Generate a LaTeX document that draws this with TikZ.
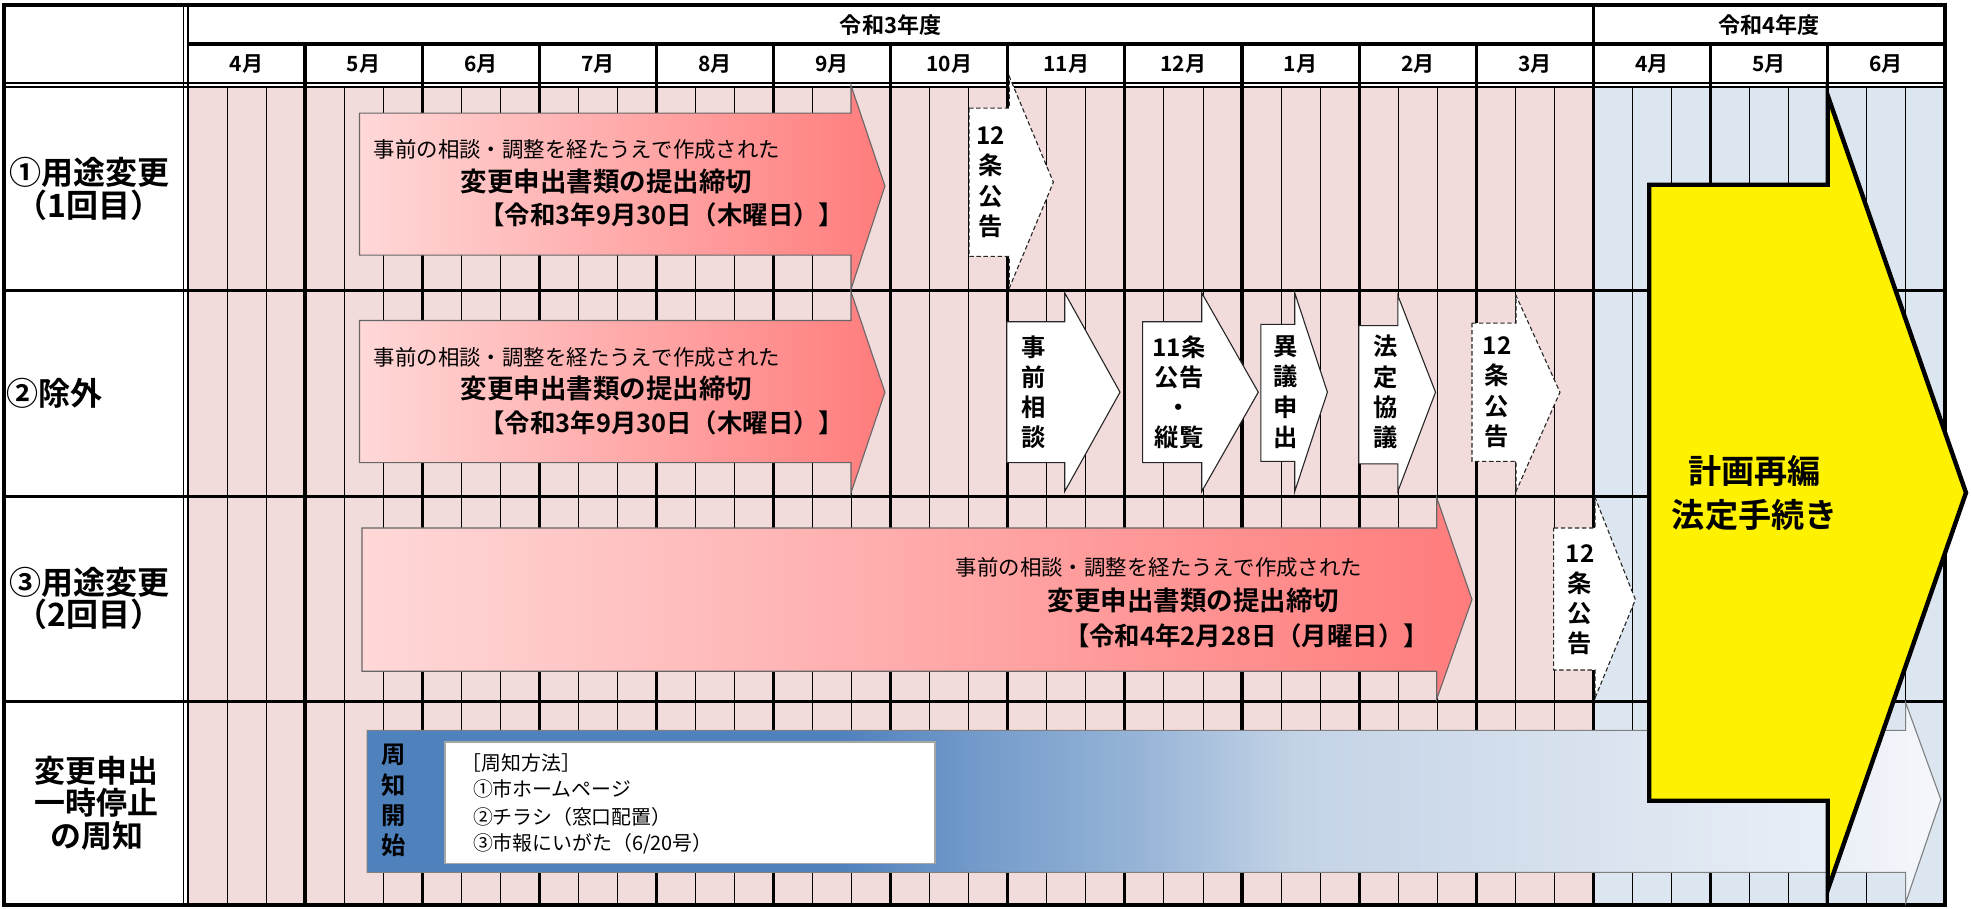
\documentclass[tikz,border=0pt]{standalone}
\usepackage{fontspec}
\setmainfont{Noto Sans CJK JP}[BoldFont={Noto Sans CJK JP Bold}]

\definecolor{rowpink}{RGB}{242,220,219}
\definecolor{rowblue}{RGB}{220,230,241}
\definecolor{deadlinelight}{RGB}{255,216,216}
\definecolor{deadlinedark}{RGB}{255,124,124}
\definecolor{fadeA}{RGB}{79,129,189}
\definecolor{fadeB}{RGB}{120,158,204}
\definecolor{fadeC}{RGB}{150,180,215}
\definecolor{fadeD}{RGB}{195,211,230}
\definecolor{fadeE}{RGB}{215,225,238}
\definecolor{fadeF}{RGB}{232,238,246}
\definecolor{fadeG}{RGB}{245,247,251}
\pgfdeclarehorizontalshading{noticefade}{100bp}{color(0bp)=(fadeA); color(40bp)=(fadeA); color(45bp)=(fadeB); color(49.5bp)=(fadeC); color(54.5bp)=(fadeD); color(63bp)=(fadeE); color(71bp)=(fadeF); color(75bp)=(fadeG); color(100bp)=(fadeG)}

\tikzset{
    deadline/.style={draw=black!60, line width=0.5pt, left color=deadlinelight, right color=deadlinedark},
    procarrow/.style={draw=black!85, fill=white, line width=0.5pt},
    notice/.style={procarrow, dash pattern=on 2pt off 1.2pt},
    monthline/.style={line width=1.4pt},
    subline/.style={line width=0.4pt},
    rowlabel/.style={font=\fontsize{14.5}{17}\selectfont\bfseries, inner sep=0pt},
    headlabel/.style={font=\fontsize{10}{12}\selectfont\bfseries, inner sep=0pt},
    plaintext/.style={font=\fontsize{9.7}{12}\selectfont, inner sep=0pt},
    boldtext/.style={font=\fontsize{12}{14}\selectfont\bfseries, inner sep=0pt},
    vtext/.style={font=\fontsize{11}{13.7}\selectfont\bfseries, align=center, inner sep=0pt},
    memo/.style={font=\fontsize{9}{11}\selectfont, inner sep=0pt, anchor=west},
}

\begin{document}
\begin{tikzpicture}[x=0.02cm,y=-0.02cm]
        \useasboundingbox (0,0) rectangle (1568,723);

        % table background
        \fill[white] (3,4) rectangle (1547,69.5);
        \fill[white] (3,69.5) rectangle (149.5,720);
        \fill[rowpink] (149.5,69.5) rectangle (1267.5,720);
        \fill[rowblue] (1267.5,69.5) rectangle (1547,720);

        % grid
        \foreach \k in {1,...,44}
            \draw[subline] (149.5+31.057*\k,69.5) -- (149.5+31.057*\k,720);
        \foreach \m in {1,...,14}
            \draw[monthline] (149.5+93.17*\m,35) -- (149.5+93.17*\m,720);
        \draw[monthline] (1267.5,4) -- (1267.5,35);
        \draw[monthline] (149.5,35) -- (1547,35);
        \draw[line width=0.8pt] (3,66) -- (1547,66) (3,69.5) -- (1547,69.5);
        \draw[line width=0.8pt] (146,4) -- (146,720) (149.5,4) -- (149.5,720);
        \foreach \y in {231,395,558}
            \draw[monthline] (3,\y) -- (1547,\y);
        \draw[line width=1.8pt] (3,4) rectangle (1547,720);

        % headers
        \node[headlabel] (fy3) at (708.5,20) {令和3年度};
        \node[headlabel] (fy4) at (1407.3,20) {令和4年度};
        \foreach \mon [count=\i from 0] in {4,5,6,7,8,9,10,11,12,1,2,3,4,5,6}
            \node[headlabel, font=\fontsize{9.5}{11}\selectfont\bfseries] (mon\i) at (196.1+93.17*\i,51) {\mon 月};

        % row labels
        \node[rowlabel] (lab1a) at (71,137) {①用途変更};
        \node[rowlabel] (lab1b) at (71,163) {（1回目）};
        \node[rowlabel] (lab2) at (5,313) [anchor=west] {②除外};
        \node[rowlabel] (lab3a) at (71,463) {③用途変更};
        \node[rowlabel] (lab3b) at (71,489) {（2回目）};
        \node[rowlabel, font=\fontsize{14}{17}\selectfont\bfseries] (lab4a) at (77,613) {変更申出};
        \node[rowlabel, font=\fontsize{14}{17}\selectfont\bfseries] (lab4b) at (77,639) {一時停止};
        \node[rowlabel, font=\fontsize{14}{17}\selectfont\bfseries] (lab4c) at (77,665) {の周知};

        % deadline arrows
        \draw[deadline] (286,90) -- (677,90) -- (677,68) -- (704,148) -- (677,230) -- (677,203) -- (286,203) -- cycle;
        \node[plaintext] (pre1) at (297,119) [anchor=west] {事前の相談・調整を経たうえで作成された};
        \node[boldtext] (due1) at (366,144) [anchor=west] {変更申出書類の提出締切};
        \node[boldtext, font=\fontsize{11.5}{14}\selectfont\bfseries] (date1) at (672,171) [anchor=east] {【令和3年9月30日（木曜日）】};

        \draw[deadline] (286,255) -- (677,255) -- (677,232) -- (704,312) -- (677,392) -- (677,368) -- (286,368) -- cycle;
        \node[plaintext] (pre2) at (297,284) [anchor=west] {事前の相談・調整を経たうえで作成された};
        \node[boldtext] (due2) at (366,309) [anchor=west] {変更申出書類の提出締切};
        \node[boldtext, font=\fontsize{11.5}{14}\selectfont\bfseries] (date2) at (672,336) [anchor=east] {【令和3年9月30日（木曜日）】};

        \draw[deadline] (288,420) -- (1143,420) -- (1143,396) -- (1171,477) -- (1143,556) -- (1143,534) -- (288,534) -- cycle;
        \node[plaintext] (pre3) at (760,451) [anchor=west] {事前の相談・調整を経たうえで作成された};
        \node[boldtext] (due3) at (833,478) [anchor=west] {変更申出書類の提出締切};
        \node[boldtext, font=\fontsize{11.5}{14}\selectfont\bfseries] (date3) at (1137,506) [anchor=east] {【令和4年2月28日（月曜日）】};

        % procedure arrows
        \draw[notice] (771,86) -- (803,86) -- (803,61) -- (838,145) -- (803,229) -- (803,204) -- (771,204) -- cycle;
        \node[vtext] (kokoku1) at (788,145) {12\\条\\公\\告};

        \draw[procarrow] (801,256) -- (847,256) -- (847,233) -- (891,312) -- (847,391) -- (847,368) -- (801,368) -- cycle;
        \node[vtext] (soudan) at (822,312) {事\\前\\相\\談};
        \draw[procarrow] (909,256) -- (956,256) -- (956,233) -- (1001,312) -- (956,391) -- (956,368) -- (909,368) -- cycle;
        \node[vtext] (juran) at (938,312) {11条\\公告\\・\\縦覧};
        \draw[procarrow] (1003,258) -- (1030,258) -- (1030,233) -- (1056,312) -- (1030,391) -- (1030,367) -- (1003,367) -- cycle;
        \node[vtext] (igi) at (1023,312) {異\\議\\申\\出};
        \draw[procarrow] (1081,259) -- (1112,259) -- (1112,235) -- (1142,312) -- (1112,391) -- (1112,369) -- (1081,369) -- cycle;
        \node[vtext] (kyogi) at (1102,312) {法\\定\\協\\議};
        \draw[notice] (1171,257) -- (1206,257) -- (1206,235) -- (1241,312) -- (1206,391) -- (1206,367) -- (1171,367) -- cycle;
        \node[vtext] (kokoku2) at (1191,312) {12\\条\\公\\告};

        \draw[notice] (1236,420) -- (1269,420) -- (1269,396) -- (1301,477) -- (1269,555) -- (1269,533) -- (1236,533) -- cycle;
        \node[vtext] (kokoku3) at (1257,477) {12\\条\\公\\告};

        % notice arrow
        \path[draw=black!50, line width=0.5pt, shading=noticefade] (292,581) -- (1516,581) -- (1516,559) -- (1544,636) -- (1516,718) -- (1516,694) -- (292,694) -- cycle;
        \node[vtext] (start) at (313,637) {周\\知\\開\\始};
        \filldraw[fill=white, draw=black!35, line width=0.8pt] (354,590) rectangle (744,687);
        \node[memo] (howto) at (367,607) {［周知方法］};
        \node[memo] (web) at (376,628) {①市ホームページ};
        \node[memo] (flyer) at (376,650) {②チラシ（窓口配置）};
        \node[memo] (paper) at (376,671) {③市報にいがた（6/20号）};

        % plan reorganisation arrow
        \draw[line width=2pt, fill=yellow] (1312,147) -- (1454,147) -- (1454,76) -- (1564,392) -- (1454,708) -- (1454,637) -- (1312,637) -- cycle;
        \node[font=\fontsize{15}{20}\selectfont\bfseries, align=center, inner sep=0pt] (plan) at (1396,392) {計画再編\\法定手続き};
    \end{tikzpicture}
\end{document}
